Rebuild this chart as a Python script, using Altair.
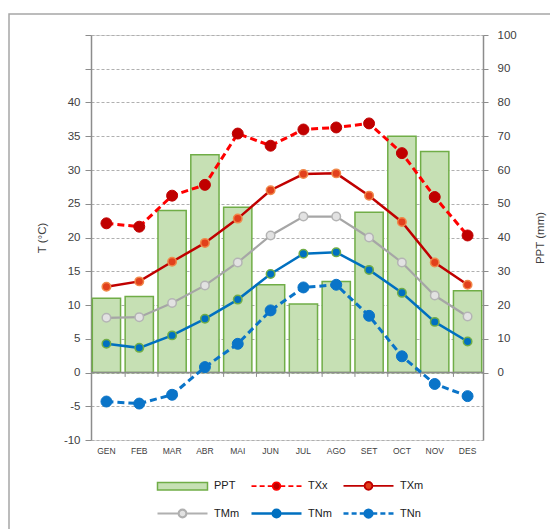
import altair as alt
import pandas as pd

months = ["GEN", "FEB", "MAR", "ABR", "MAI", "JUN", "JUL", "AGO", "SET", "OCT", "NOV", "DES"]
ppt = [22.0, 22.5, 48.0, 64.5, 49.0, 26.0, 20.3, 27.0, 47.5, 70.0, 65.5, 24.2]
txx = [22.1, 21.6, 26.2, 27.8, 35.4, 33.6, 36.0, 36.3, 36.9, 32.5, 26.0, 20.3]
txm = [12.7, 13.5, 16.4, 19.2, 22.8, 27.0, 29.4, 29.5, 26.2, 22.3, 16.3, 13.0]
tmm = [8.1, 8.2, 10.3, 12.9, 16.3, 20.3, 23.1, 23.1, 20.0, 16.3, 11.4, 8.3]
tnm = [4.25, 3.65, 5.5, 7.95, 10.8, 14.6, 17.6, 17.8, 15.2, 11.8, 7.5, 4.6]
tnn = [-4.3, -4.6, -3.3, 0.8, 4.25, 9.2, 12.6, 13.0, 8.4, 2.4, -1.7, -3.5]
series_names = ["PPT", "TXx", "TXm", "TMm", "TNm", "TNn"]
temp_series = {"TXx": txx, "TXm": txm, "TMm": tmm, "TNm": tnm, "TNn": tnn}
t_ticks = list(range(-10, 55, 5))
ppt_ticks = list(range(0, 110, 10))

FONT = "Liberation Sans"
W, H = 392, 405

ppt_df = pd.DataFrame({"month": months, "ppt": ppt})
rows = []
for name, vals in temp_series.items():
    for m, v in zip(months, vals):
        rows.append({"month": m, "series": name, "value": v})
temp_df = pd.DataFrame(rows)
one = pd.DataFrame({"k": [0]})

x_axis = alt.Axis(orient="bottom", title=None, domain=False, ticks=False, labelAngle=0,
                  labelPadding=6, labelFontSize=8.5, labelColor="#404040", labelFont=FONT)
x_scale = alt.Scale(paddingInner=0.14, paddingOuter=0.04)
x_enc = alt.X("month:N", sort=months, scale=x_scale, axis=x_axis)

t_axis = alt.Axis(
    orient="left", values=t_ticks,
    labelExpr="datum.value <= 40 ? '' + datum.value : ''",
    grid=True, gridDash=[3, 2], gridColor="#b0b0b0", gridWidth=1,
    domainColor="#8c8c8c", domainWidth=1.5, tickColor="#8c8c8c", tickSize=6,
    labelPadding=5, labelFontSize=11.5, labelColor="#404040", labelFont=FONT,
    title="T (°C)", titleX=-49, titleY=H / 2, titleAngle=270, titleAlign="center",
    titleBaseline="middle", titleFontSize=11.5, titleFontWeight="normal",
    titleColor="#404040", titleFont=FONT,
)
t_scale = alt.Scale(domain=[-10, 50], nice=False, zero=False)


def y_t(field="value"):
    return alt.Y(f"{field}:Q", scale=t_scale, axis=t_axis)


# ---- legend symbols (custom SVG paths) -----------------------------------
R = 0.62


def dashes(side):
    segs = [(-4.0, -3.2), (-2.7, -1.9), (-1.4, -R)]
    out = ""
    for a, b in segs:
        if side < 0:
            out += f"M{a},0L{b},0"
        else:
            out += f"M{-b},0L{-a},0"
    return out

circle = f"M{R},0A{R},{R},0,1,1,-{R},0A{R},{R},0,1,1,{R},0Z"
solid_path = f"M-4,0L-{R},0M{R},0L4,0" + circle
dash_path = dashes(-1) + dashes(1) + circle
rect_path = "M-4,-0.6L4,-0.6L4,0.6L-4,0.6Z"

leg_shapes = [rect_path, dash_path, solid_path, solid_path, solid_path, dash_path]
leg_fills = ["#c6e0b4", "#c00000", "#e2401c", "#e2e2e2", "#0070c0", "#0a74c8"]
leg_strokes = ["#70ad47", "#ff0000", "#c00000", "#b0b0b0", "#0070c0", "#0a74c8"]
leg_widths = [1.5, 2.5, 2.5, 2.5, 2.5, 2.5]


def make_legend():
    return alt.Legend(
        orient="none", legendX=84, legendY=443, columns=3, direction="horizontal",
        title=None, padding=0,
        symbolSize=156.25, labelOffset=24, columnPadding=6, rowPadding=10,
        labelFontSize=11, labelColor="#202020", labelFont=FONT, symbolOpacity=1,
    )

legend_layer = alt.Chart(temp_df).transform_filter("false").mark_point(
    filled=True, size=156.25, opacity=1
).encode(
    x=x_enc, y=y_t(),
    shape=alt.Shape("series:N", scale=alt.Scale(domain=series_names, range=leg_shapes), legend=make_legend()),
    fill=alt.Fill("series:N", scale=alt.Scale(domain=series_names, range=leg_fills), legend=make_legend()),
    stroke=alt.Stroke("series:N", scale=alt.Scale(domain=series_names, range=leg_strokes), legend=make_legend()),
    strokeWidth=alt.StrokeWidth("series:N", scale=alt.Scale(domain=series_names, range=leg_widths), legend=make_legend()),
)

# ---- precipitation bars (right axis) --------------------------------------
bars = alt.Chart(ppt_df).mark_bar(fill="#c6e0b4", stroke="#70ad47", strokeWidth=1.5).encode(
    x=x_enc,
    y=alt.Y("ppt:Q", scale=alt.Scale(domain=[-20, 100], nice=False, zero=False),
            axis=alt.Axis(orient="right", values=ppt_ticks, grid=False,
                          domainColor="#8c8c8c", domainWidth=1.5, tickColor="#8c8c8c", tickSize=5,
                          labelPadding=9, labelFontSize=11.5, labelColor="#404040", labelFont=FONT,
                          title="PPT (mm)", titleX=57, titleY=H / 2, titleAngle=270,
                          titleAlign="center", titleBaseline="middle", titleFontSize=11.5,
                          titleFontWeight="normal", titleColor="#404040", titleFont=FONT)),
    y2=alt.Y2(datum=0),
)

# ---- temperature layers (left axis) ---------------------------------------
frame = alt.Chart(one).mark_rect(fill="transparent", stroke="#a6a6a6", strokeWidth=1.5).encode(
    x=alt.value(-82), x2=alt.value(600), y=alt.value(-21), y2=alt.value(600)
)
zero_rule = alt.Chart(one).mark_rule(color="#8c8c8c", strokeWidth=1.5).encode(
    y=alt.Y(datum=0, scale=t_scale, axis=t_axis))
month_ticks = alt.Chart(pd.DataFrame({"month": months[1:]})).mark_rule(color="#8c8c8c", strokeWidth=1).encode(
    x=alt.X("month:N", sort=months, bandPosition=0, scale=x_scale, axis=x_axis),
    y=alt.Y(datum=0, scale=t_scale, axis=t_axis), y2=alt.Y2(datum=-0.65),
)

styles = {
    "TXx": dict(line="#ff0000", width=3, dash=[7, 4], fill="#c00000", stroke="#c00000", size=120, sw=1),
    "TXm": dict(line="#c00000", width=2.5, dash=None, fill="#e2401c", stroke="#f0884a", size=72, sw=1.5),
    "TMm": dict(line="#a6a6a6", width=2.2, dash=None, fill="#e2e2e2", stroke="#b4b4b4", size=72, sw=1.5),
    "TNm": dict(line="#0070c0", width=2.5, dash=None, fill="#0070c0", stroke="#70ad47", size=72, sw=1.5),
    "TNn": dict(line="#0a74c8", width=3, dash=[7, 4], fill="#0a74c8", stroke="#0a74c8", size=120, sw=1),
}

temp_layers = [frame, zero_rule, month_ticks]
for name, st in styles.items():
    base = alt.Chart(temp_df).transform_filter(alt.datum.series == name)
    line_kwargs = dict(color=st["line"], strokeWidth=st["width"])
    if st["dash"]:
        line_kwargs["strokeDash"] = st["dash"]
    line = base.mark_line(**line_kwargs).encode(x=x_enc, y=y_t())
    pts = base.mark_point(filled=True, fill=st["fill"], stroke=st["stroke"], strokeWidth=st["sw"],
                          size=st["size"], opacity=1, fillOpacity=1).encode(x=x_enc, y=y_t())
    temp_layers += [line, pts]
temp_layers.append(legend_layer)

temps = alt.layer(*temp_layers)

chart = alt.layer(bars, temps).resolve_scale(y="independent").properties(
    width=W, height=H,
    autosize=alt.AutoSizeParams(type="none"),
    padding={"left": 83, "top": 27, "right": 67, "bottom": 89},
).configure_view(stroke=None).configure(background="white")

chart.save("out.html", embed_options={"renderer": "svg", "actions": False})
